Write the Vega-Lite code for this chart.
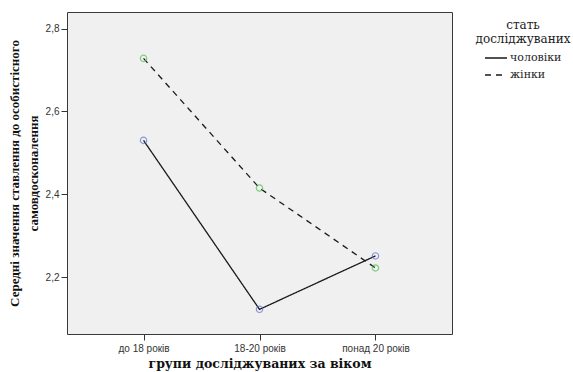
{
  "$schema": "https://vega.github.io/schema/vega-lite/v6.json",
  "autosize": "none",
  "width": 385,
  "height": 322,
  "padding": {"left": 67, "top": 12, "right": 121, "bottom": 38},
  "background": "white",
  "config": {
    "view": {"fill": "#f0f0f0", "stroke": "#3a3a3a", "strokeWidth": 1},
    "axis": {
      "grid": false,
      "domain": false,
      "tickColor": "#333333",
      "tickSize": 6,
      "labelFont": "Liberation Sans",
      "labelFontSize": 10,
      "labelColor": "#333333",
      "titleFont": "Liberation Serif",
      "titleFontWeight": "bold",
      "titleColor": "#111111"
    }
  },
  "data": {
    "values": [
      {"group": "до 18 років", "sex": "чоловіки", "mean": 2.530},
      {"group": "18-20 років", "sex": "чоловіки", "mean": 2.122},
      {"group": "понад 20 років", "sex": "чоловіки", "mean": 2.251},
      {"group": "до 18 років", "sex": "жінки", "mean": 2.728},
      {"group": "18-20 років", "sex": "жінки", "mean": 2.415},
      {"group": "понад 20 років", "sex": "жінки", "mean": 2.222}
    ]
  },
  "encoding": {
    "x": {
      "field": "group",
      "type": "ordinal",
      "sort": ["до 18 років", "18-20 років", "понад 20 років"],
      "scale": {"type": "point", "padding": 0.66},
      "axis": {
        "title": "групи досліджуваних за віком",
        "titleFont": "DejaVu Serif",
        "titleFontSize": 12.5,
        "titlePadding": 4,
        "labelAngle": 0,
        "labelPadding": 3
      }
    },
    "y": {
      "field": "mean",
      "type": "quantitative",
      "scale": {"domain": [2.0625, 2.84], "nice": false, "zero": false},
      "axis": {
        "values": [2.2, 2.4, 2.6, 2.8],
        "labelExpr": "replace(format(datum.value, '.1f'), '.', ',')",
        "title": ["Середні значення ставлення до особистісного", "самовдосконалення"],
        "titleFontSize": 13,
        "titleLineHeight": 19,
        "titleAngle": -90,
        "titleBaseline": "top",
        "titleAlign": "center",
        "titleX": -59,
        "titleY": 161,
        "labelPadding": 2
      }
    }
  },
  "layer": [
    {
      "mark": {"type": "line", "color": "#1a1a1a", "strokeWidth": 1.3},
      "encoding": {
        "strokeDash": {
          "field": "sex",
          "type": "nominal",
          "sort": ["чоловіки", "жінки"],
          "scale": {"domain": ["чоловіки", "жінки"], "range": [[1, 0], [6, 5]]},
          "legend": {
            "title": ["стать", "досліджуваних"],
            "orient": "none",
            "legendX": 409,
            "legendY": 8,
            "titleFont": "DejaVu Serif",
            "titleFontWeight": "normal",
            "titleFontSize": 12,
            "titleColor": "#222222",
            "titleAlign": "center",
            "titleAnchor": "middle",
            "titleLineHeight": 14,
            "titlePadding": 0,
            "labelFont": "DejaVu Serif",
            "labelFontSize": 11,
            "labelColor": "#222222",
            "symbolType": "stroke",
            "symbolStrokeColor": "#1a1a1a",
            "symbolStrokeWidth": 1.3,
            "symbolSize": 484,
            "labelOffset": 2,
            "rowPadding": 0
          }
        }
      }
    },
    {
      "transform": [{"filter": "datum.sex === 'чоловіки'"}],
      "mark": {"type": "point", "shape": "circle", "filled": false, "size": 40, "strokeWidth": 1.2, "color": "#5f72d2"}
    },
    {
      "transform": [{"filter": "datum.sex === 'жінки'"}],
      "mark": {"type": "point", "shape": "circle", "filled": false, "size": 40, "strokeWidth": 1.2, "color": "#4cc34c"}
    }
  ]
}
